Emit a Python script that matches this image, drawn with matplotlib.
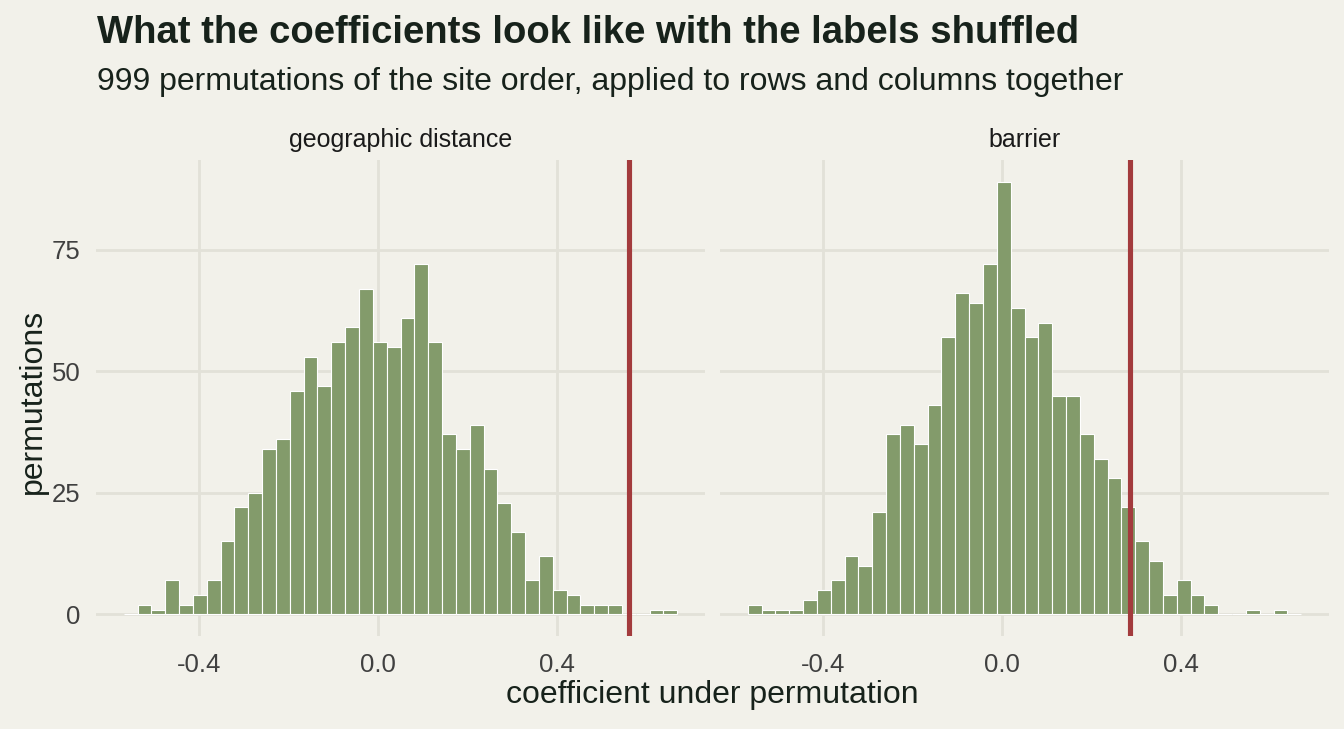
import numpy as np
import matplotlib
matplotlib.use("Agg")
import matplotlib.pyplot as plt

# shared histogram bins (ggplot uses the same breaks in both facets)
bin_start = -0.569
bin_width = 0.03095
n_bins = 40

panels = ["geographic distance", "barrier"]

geo_counts = [0, 2, 1, 7, 2, 4, 7, 15, 22, 25, 34, 36, 46, 53, 47, 56, 59, 67, 56, 55,
              61, 72, 56, 37, 34, 39, 30, 23, 17, 7, 12, 5, 4, 2, 2, 2, 0, 0, 1, 1]
barrier_counts = [2, 1, 1, 1, 3, 5, 7, 12, 10, 21, 37, 39, 35, 43, 57, 66, 64, 72, 89,
                  63, 57, 60, 45, 45, 37, 32, 28, 22, 15, 11, 4, 7, 4, 2, 0, 0, 1, 0, 1, 0]
observed = [0.561, 0.286]

x_ticks = [-0.4, 0.0, 0.4]
x_ticklabels = ["-0.4", "0.0", "0.4"]
y_ticks = [0, 25, 50, 75]

BG = "#F2F1EA"
GRID = "#E2E1D8"
BAR = "#839B6B"
RED = "#A33B3D"
DARK = "#17221B"
TICK = "#404040"

plt.rcParams["font.family"] = ["Liberation Sans", "DejaVu Sans"]

W, H = 1344, 729
fig = plt.figure(figsize=(W / 100, H / 100), dpi=100, facecolor=BG)
axes = [fig.add_axes([96 / W, 1 - 636 / H, 609 / W, 476 / H]),
        fig.add_axes([720 / W, 1 - 636 / H, 609 / W, 476 / H])]

edges = bin_start + bin_width * np.arange(n_bins + 1)
all_counts = [geo_counts, barrier_counts]
strip_x = [400.5, 1024.5]

for i, ax in enumerate(axes):
    ax.set_facecolor(BG)
    counts = all_counts[i]
    ax.bar(edges[:-1], counts, width=bin_width, align="edge", color=BAR,
           edgecolor="white", linewidth=0.8, zorder=2)
    ax.axvline(observed[i], color=RED, lw=3.7, zorder=3)
    lo, hi = edges[0], edges[-1]
    pad = (hi - lo) * 0.05
    ax.set_xlim(lo - pad, hi + pad)
    ax.set_ylim(-4.45, 93.45)
    ax.set_xticks(x_ticks)
    ax.set_yticks(y_ticks)
    ax.grid(True, color=GRID, lw=2.0, zorder=0)
    ax.set_axisbelow(True)
    for s in ax.spines.values():
        s.set_visible(False)
    ax.tick_params(length=0, labelsize=18.5, colors=TICK)
    ax.tick_params(axis="y", pad=11)
    ax.tick_params(axis="x", pad=12)
    ax.set_xticklabels(x_ticklabels)
    if i == 1:
        ax.tick_params(labelleft=False)
    fig.text(strip_x[i] / W, 1 - 147 / H, panels[i], fontsize=18, color="#1a1a1a",
             ha="center", va="baseline")

fig.text(33 / W, 1 - 401 / H, "permutations", rotation=90, ha="center", va="center",
         fontsize=23, color=DARK)
fig.text(712 / W, 1 - 703 / H, "coefficient under permutation", ha="center", va="baseline",
         fontsize=23, color=DARK)

fig.text(97 / W, 1 - 43 / H, "What the coefficients look like with the labels shuffled",
         fontsize=27.5, fontweight="bold", color=DARK, ha="left", va="baseline")
fig.text(97 / W, 1 - 90 / H, "999 permutations of the site order, applied to rows and columns together",
         fontsize=23, color=DARK, ha="left", va="baseline")

fig.savefig("out.png", dpi=100, facecolor=BG)
